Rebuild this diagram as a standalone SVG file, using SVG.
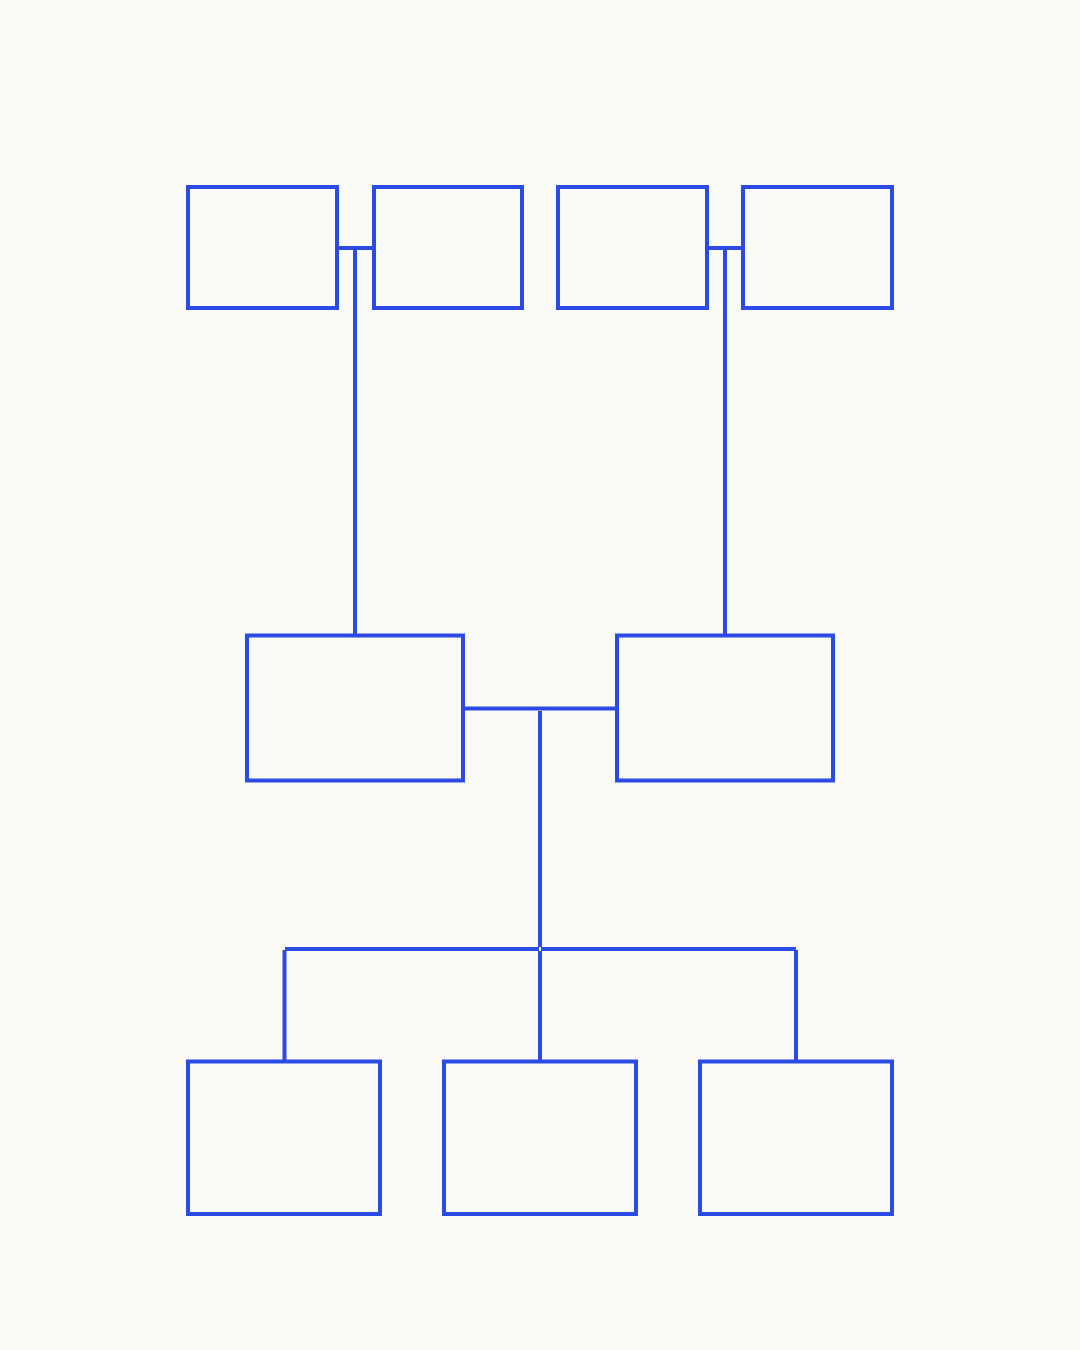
<svg xmlns="http://www.w3.org/2000/svg" width="1080" height="1350" viewBox="0 0 1080 1350">
<style>
.n{fill:none;stroke:#2b4ae6;stroke-width:4}
.c line{stroke:#2b4ae6;stroke-width:4;stroke-linecap:butt}
</style>
<rect width="1080" height="1350" fill="#fafbf6"/>
<g class="c" id="connectors">
<line x1="337" y1="248" x2="374" y2="248"/>
<line x1="355" y1="250" x2="355" y2="635"/>
<line x1="707" y1="248" x2="743" y2="248"/>
<line x1="725" y1="250" x2="725" y2="635"/>
<line x1="463" y1="708.5" x2="617" y2="708.5"/>
<line x1="540" y1="711" x2="540" y2="947"/>
<line x1="285" y1="949" x2="539" y2="949"/>
<line x1="541" y1="949" x2="796" y2="949"/>
<line x1="284.5" y1="950" x2="284.5" y2="1061"/>
<line x1="540" y1="951" x2="540" y2="1061"/>
<line x1="796" y1="950" x2="796" y2="1061"/>
</g>
<g id="n1"><rect class="n" x="188" y="187" width="149" height="121"/></g>
<g id="n2"><rect class="n" x="374" y="187" width="148" height="121"/></g>
<g id="n3"><rect class="n" x="558" y="187" width="149" height="121"/></g>
<g id="n4"><rect class="n" x="743" y="187" width="149" height="121"/></g>
<g id="n5"><rect class="n" x="247" y="635.5" width="216" height="145"/></g>
<g id="n6"><rect class="n" x="617" y="635.5" width="216" height="145"/></g>
<g id="n7"><rect class="n" x="188" y="1061.5" width="192" height="152.5"/></g>
<g id="n8"><rect class="n" x="444" y="1061.5" width="192" height="152.5"/></g>
<g id="n9"><rect class="n" x="700" y="1061.5" width="192" height="152.5"/></g>
</svg>
